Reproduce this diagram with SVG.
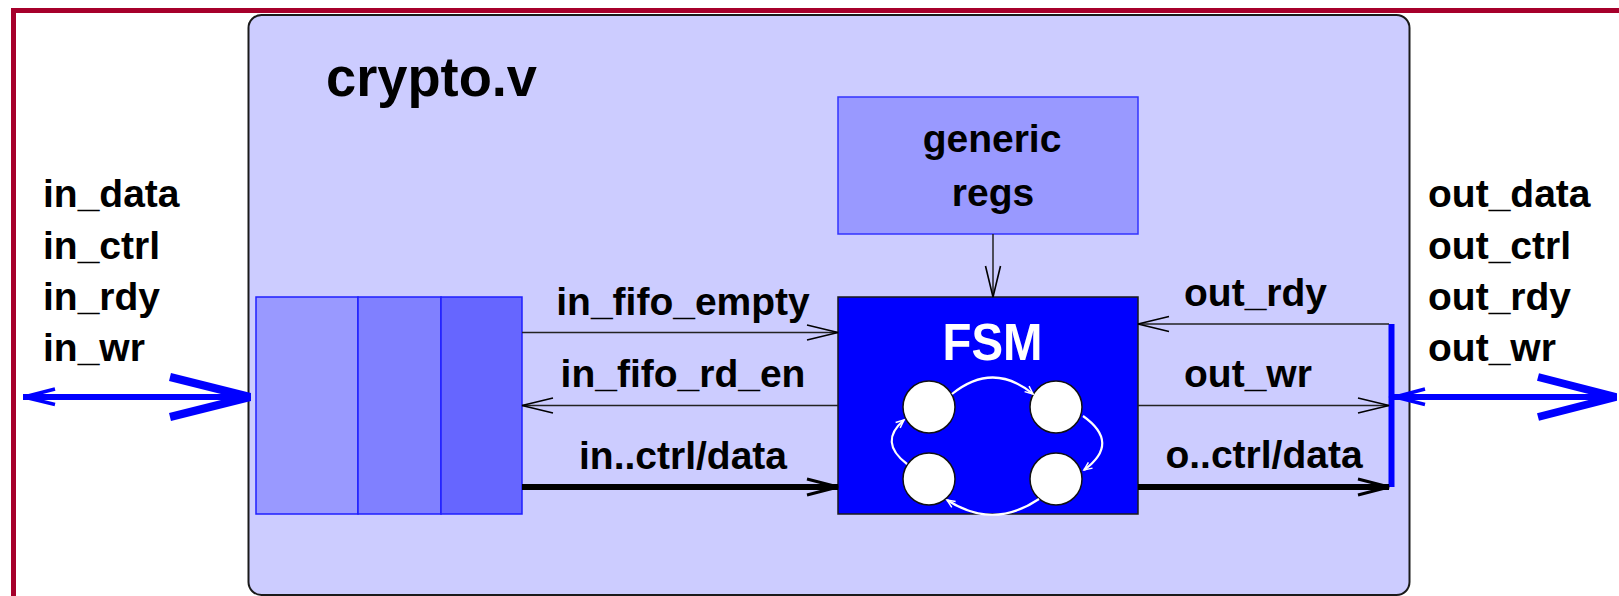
<svg xmlns="http://www.w3.org/2000/svg" width="1619" height="596" viewBox="0 0 1619 596">
  <style>
    .lbl { font-family: "Liberation Sans", Arial, sans-serif; font-weight: bold; font-size: 39px; fill: #000; }
    .mid { text-anchor: middle; }
    .title { font-size: 55px; }
    .fsmtxt { font-size: 51px; fill: #fff; }
    .thin { fill: none; stroke: #222; stroke-width: 1.5; }
    .thick { fill: none; stroke: #000; stroke-width: 6; }
    .cell { stroke: #1f1fff; stroke-width: 1.5; }
    .state { fill: #fff; stroke: #111; stroke-width: 1.5; }
    .trans { fill: none; stroke: #fff; stroke-width: 2.2; }
    .bus { fill: none; stroke: #0000ff; stroke-linecap: butt; }
  </style>
  <defs>
    <marker id="head" markerUnits="userSpaceOnUse" viewBox="-34 -10 36 20" markerWidth="36" markerHeight="20" refX="0" refY="0" orient="auto" overflow="visible">
      <path d="M-31,-7.5 L0,0 L-31,7.5" fill="none" stroke="#000" stroke-width="1.6"/>
    </marker>
    <marker id="headBold" markerUnits="userSpaceOnUse" viewBox="-34 -10 36 20" markerWidth="36" markerHeight="20" refX="0" refY="0" orient="auto" overflow="visible">
      <path d="M-31,-8 L0,0 L-31,8" fill="none" stroke="#000" stroke-width="3"/>
    </marker>
    <marker id="headWhite" markerUnits="userSpaceOnUse" viewBox="-10 -6 12 12" markerWidth="12" markerHeight="12" refX="0" refY="0" orient="auto" overflow="visible">
      <path d="M-8,-3.5 L0,0 L-8,3.5" fill="none" stroke="#fff" stroke-width="1.5"/>
    </marker>
  </defs>

  <rect width="1619" height="596" fill="#fff"/>
  <!-- outer frame -->
  <path d="M13.5,600 L13.5,10.5 L1625,10.5" fill="none" stroke="#a6002b" stroke-width="5"/>

  <!-- crypto.v module -->
  <g id="crypto">
    <rect x="248.5" y="15" width="1161" height="580" rx="13" fill="#ccccff" stroke="#1a1a1a" stroke-width="2"/>
    <text class="lbl title" x="326" y="96" textLength="211" lengthAdjust="spacingAndGlyphs">crypto.v</text>
  </g>

  <!-- port labels -->
  <g id="in-ports">
    <text class="lbl" x="43" y="207">in_data</text>
    <text class="lbl" x="43" y="258.5">in_ctrl</text>
    <text class="lbl" x="43" y="310">in_rdy</text>
    <text class="lbl" x="43" y="361">in_wr</text>
  </g>
  <g id="out-ports">
    <text class="lbl" x="1428" y="207">out_data</text>
    <text class="lbl" x="1428" y="258.5">out_ctrl</text>
    <text class="lbl" x="1428" y="310">out_rdy</text>
    <text class="lbl" x="1428" y="361">out_wr</text>
  </g>

  <!-- input FIFO -->
  <g id="fifo">
    <rect class="cell" x="256" y="297" width="102" height="217" fill="#9999ff"/>
    <rect class="cell" x="358" y="297" width="83" height="217" fill="#8080ff"/>
    <rect class="cell" x="441" y="297" width="81" height="217" fill="#6666ff"/>
  </g>

  <!-- generic registers -->
  <g id="generic-regs">
    <rect x="838" y="97" width="300" height="137" fill="#9999ff" stroke="#3333ff" stroke-width="1.5"/>
    <text class="lbl mid" x="992" y="152">generic</text>
    <text class="lbl mid" x="993" y="206">regs</text>
  </g>

  <!-- state machine -->
  <g id="fsm">
    <rect x="838" y="297" width="300" height="217" fill="#0000ff" stroke="#1a1a1a" stroke-width="1.5"/>
    <text class="lbl mid fsmtxt" x="992.5" y="360" textLength="100" lengthAdjust="spacingAndGlyphs">FSM</text>
    <circle class="state" cx="929" cy="407" r="26"/>
    <circle class="state" cx="1056" cy="407" r="26"/>
    <circle class="state" cx="929" cy="479" r="26"/>
    <circle class="state" cx="1056" cy="479" r="26"/>
    <path class="trans" d="M952,394 Q993,361 1033,394" marker-end="url(#headWhite)"/>
    <path class="trans" d="M1083,416 Q1121,443 1084,470" marker-end="url(#headWhite)"/>
    <path class="trans" d="M1039,499 Q993,530 947,500" marker-end="url(#headWhite)"/>
    <path class="trans" d="M907,464 Q878,442 904,420" marker-end="url(#headWhite)"/>
  </g>

  <!-- output bus bar -->
  <g id="out-bus">
    <line x1="1391.5" y1="324" x2="1391.5" y2="487" stroke="#0000ff" stroke-width="6"/>
  </g>

  <!-- signals -->
  <g id="connectors">
    <line class="thin" x1="993" y1="234" x2="993" y2="297" marker-end="url(#head)"/>

    <line class="thin" x1="522" y1="332.5" x2="838" y2="332.5" marker-end="url(#head)"/>
    <line class="thin" x1="838" y1="405.5" x2="522" y2="405.5" marker-end="url(#head)"/>
    <line class="thick" x1="522" y1="487" x2="838" y2="487" marker-end="url(#headBold)"/>

    <line class="thin" x1="1389" y1="324" x2="1138" y2="324" marker-end="url(#head)"/>
    <line class="thin" x1="1138" y1="405.5" x2="1389" y2="405.5" marker-end="url(#head)"/>
    <line class="thick" x1="1138" y1="487" x2="1389" y2="487" marker-end="url(#headBold)"/>

    <text class="lbl mid" x="683" y="315">in_fifo_empty</text>
    <text class="lbl mid" x="683" y="387">in_fifo_rd_en</text>
    <text class="lbl mid" x="683" y="469">in..ctrl/data</text>
    <text class="lbl" x="1184" y="306">out_rdy</text>
    <text class="lbl" x="1184" y="387">out_wr</text>
    <text class="lbl mid" x="1264" y="468">o..ctrl/data</text>

    <!-- external buses -->
    <line class="bus" x1="23" y1="397" x2="250" y2="397" stroke-width="6"/>
    <polyline class="bus" points="55,389 24,397 55,404.5" stroke-width="3.5"/>
    <polyline class="bus" points="170,377 250,397 170,417" stroke-width="8"/>
    <line class="bus" x1="1394" y1="397" x2="1612" y2="397" stroke-width="6"/>
    <polyline class="bus" points="1425,389 1395,397 1425,404.5" stroke-width="3.5"/>
    <polyline class="bus" points="1538,377 1616,397 1538,417" stroke-width="8"/>
  </g>
</svg>
